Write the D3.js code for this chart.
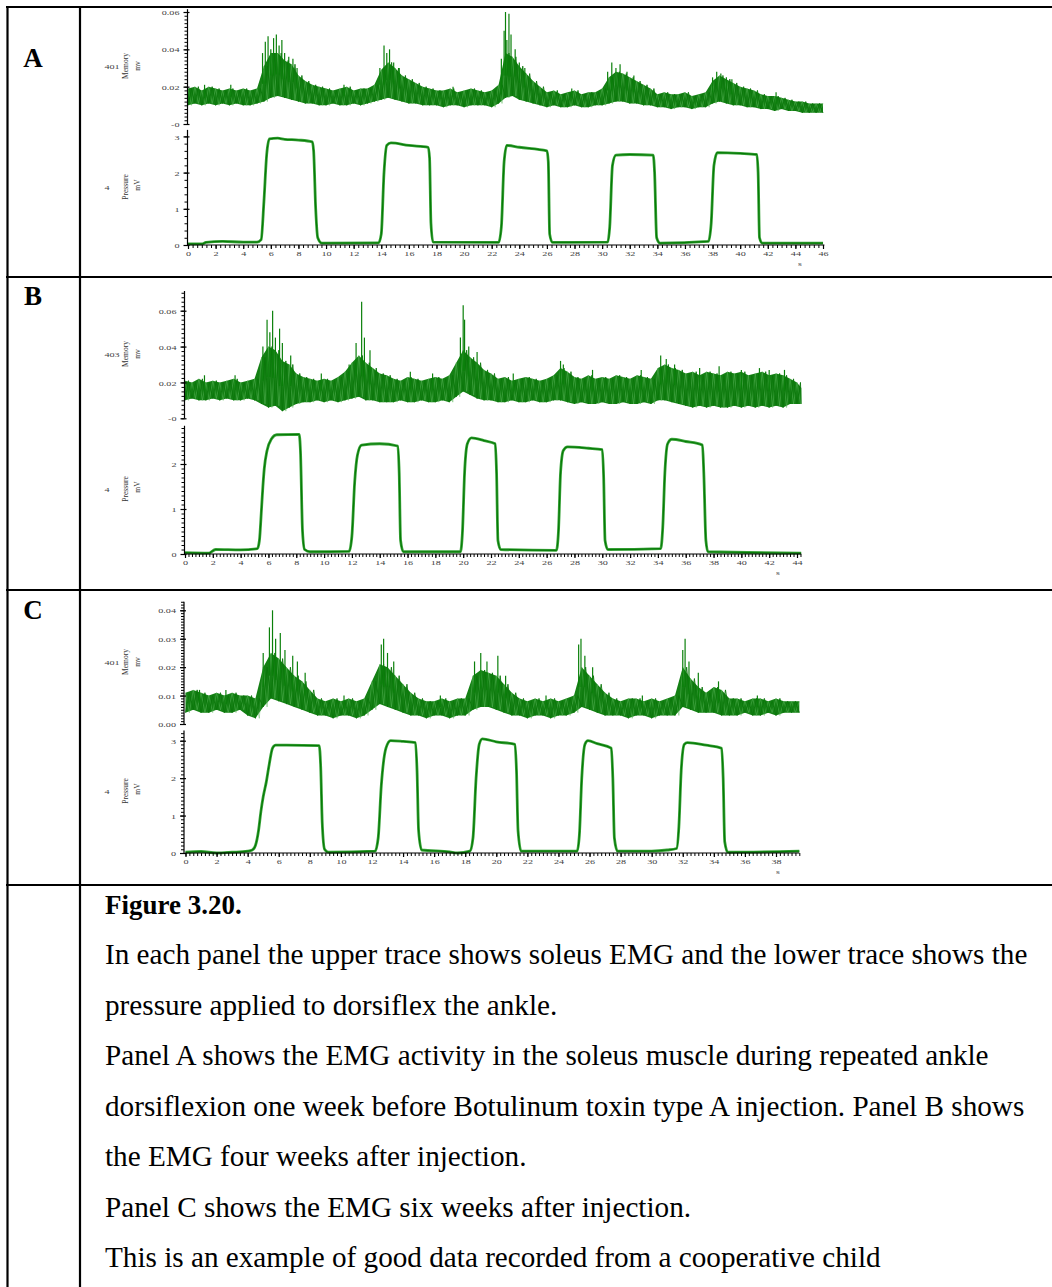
<!DOCTYPE html>
<html><head><meta charset="utf-8">
<script src="https://cdn.jsdelivr.net/npm/d3@7"></script>
<style>body{margin:0;background:#fff}svg{display:block}</style>
</head><body>
<svg id="c" width="1052" height="1287"></svg>
<script>
// ---------- DATA (EMG envelope: [time s, low, high] in 0.001 mV) ----------
const emgA = [[0,10,19],[0.5,11,20],[1,10,18],[1.5,11,20],[2,10,19],[2.5,11,18],[3,10,19],[3.5,11,18],[4,10,19],[4.5,10,18],[5,11,19],
[5.5,12,31],[6,14,38],[6.5,15,38],[7,14,34],[7.5,13,32],[8,12,26],[8.5,11,23],[9,11,21],[9.5,10,20],
[10,10,19],[10.5,11,18],[11,10,19],[11.5,10,20],[12,11,18],[12.5,10,19],[13,11,19],[13.5,12,21],
[14,13,29],[14.5,14,33],[15,13,30],[15.5,12,26],[16,11,24],[16.5,11,22],[17,10,20],
[17.5,10,19],[18,10,18],[18.5,9,18],[19,10,19],[19.5,10,17],[20,9,18],[20.5,10,19],[21,10,18],[21.5,10,17],[22,9,18],[22.5,11,21],
[23,14,38],[23.5,15,36],[24,13,31],[24.5,12,27],[25,11,23],[25.5,10,20],
[26,9,17],[26.5,10,18],[27,9,16],[27.5,9,17],[28,10,18],[28.5,9,16],[29,9,17],[29.5,10,17],[30,10,19],
[30.5,11,25],[31,12,28],[31.5,12,27],[32,11,25],[32.5,11,23],[33,10,21],[33.5,10,19],
[34,9,16],[34.5,9,17],[35,8,16],[35.5,9,16],[36,9,17],[36.5,8,15],[37,9,16],[37.5,9,17],
[38,11,23],[38.5,12,26],[39,11,24],[39.5,10,22],[40,10,20],[40.5,9,19],[41,9,18],
[41.5,8,16],[42,8,15],[42.5,7,15],[43,8,14],[43.5,7,13],[44,7,12],[44.5,6,12],[45,6,11],[45.5,6,11],[46,6,11]];
const spikesA = [[1.2,21],[3.1,21],[5.4,38],[5.6,44],[5.8,47],[6.0,40],[6.2,46],[6.4,48],[6.6,42],[6.8,45],[7.0,38],[7.3,36],[7.6,35],[7.9,30],
[11.3,21],[13.9,30],[14.2,42],[14.4,38],[14.6,40],[14.9,33],[15.3,30],[19.2,20],
[22.7,35],[22.9,50],[23.0,60],[23.1,45],[23.25,59],[23.4,48],[23.7,40],[24.0,33],[24.4,30],[27.8,19],
[30.4,28],[30.7,33],[31.0,30],[31.3,32],[31.8,28],[32.3,26],
[38.0,25],[38.3,28],[38.6,27],[39.0,25],[39.4,24],[42.6,17]];
const pressureA = [[0,0.03],[1,0.03],[1.3,0.07],[2.5,0.1],[4,0.08],[5,0.08],[5.3,0.15],[5.5,1.2],[5.7,2.5],[5.9,2.93],[6.5,2.95],[7,2.92],[8,2.9],[9,2.85],[9.1,2.6],[9.25,1.0],[9.4,0.2],[9.7,0.05],
[13.8,0.06],[14.0,0.3],[14.2,2.0],[14.4,2.75],[14.7,2.82],[16,2.75],[17.4,2.7],[17.5,2.4],[17.6,0.6],[17.75,0.08],
[22.5,0.07],[22.7,0.5],[22.9,2.3],[23.1,2.75],[24,2.7],[26,2.6],[26.1,2.3],[26.2,0.3],[26.4,0.07],
[30.4,0.08],[30.55,0.5],[30.75,2.2],[31.0,2.48],[32,2.5],[33.7,2.48],[33.8,2.0],[33.95,0.2],[34.2,0.05],
[37.7,0.1],[37.9,0.6],[38.1,2.2],[38.35,2.55],[40,2.53],[41.2,2.5],[41.3,2.0],[41.4,0.2],[41.6,0.05],[46,0.05]];

const emgB = [[0,10,21],[0.5,11,20],[1,10,22],[1.5,10,20],[2,11,21],[2.5,10,20],[3,11,21],[3.5,10,22],[4,10,20],[4.5,11,21],[5,10,22],
[5.5,8,34],[6,6,40],[6.5,7,38],[7,4,32],[7.5,6,30],[8,8,25],[8.5,9,23],
[9,9,22],[9.5,10,21],[10,9,22],[10.5,10,21],[11,9,23],
[11.5,10,26],[12,11,31],[12.5,12,35],[13,10,31],[13.5,10,28],[14,9,25],[14.5,9,24],
[15,9,22],[15.5,10,21],[16,9,23],[16.5,9,22],[17,10,21],[17.5,9,22],[18,9,23],[18.5,10,22],[19,9,24],
[19.5,12,31],[20,15,38],[20.5,13,34],[21,11,31],[21.5,10,27],[22,10,25],
[22.5,9,22],[23,9,23],[23.5,10,21],[24,9,22],[24.5,9,23],[25,10,22],[25.5,9,21],[26,9,22],[26.5,10,24],
[27,10,28],[27.5,9,26],
[28,8,23],[28.5,9,22],[29,8,24],[29.5,8,22],[30,9,23],[30.5,8,22],[31,8,24],[31.5,9,23],[32,8,22],[32.5,8,24],[33,9,23],[33.5,8,22],
[34,10,28],[34.5,10,30],[35,9,28],[35.5,8,27],
[36,7,25],[36.5,6,26],[37,7,24],[37.5,6,26],[38,7,25],[38.5,6,24],[39,6,26],[39.5,7,25],[40,6,26],[40.5,7,24],[41,6,25],[41.5,7,26],[42,6,24],[42.5,7,25],[43,6,24],[43.5,8,22],[44,8,20],[44.3,8,17]];
const spikesB = [[1.4,24],[3.6,24],[5.6,40],[5.9,55],[6.1,48],[6.3,60],[6.5,45],[6.8,50],[7.0,42],[7.6,35],
[9.8,25],[11.8,30],[12.3,42],[12.7,65],[12.9,45],[13.3,38],[16.2,26],[17.8,25],
[19.8,45],[20.0,63],[20.1,55],[20.4,40],[21.0,37],[23.6,25],
[27.0,32],[27.2,30],[29.3,27],[32.8,27],[34.2,35],[34.6,33],[35.2,30],[37.0,28],[38.4,29],[40.0,27],[41.3,28],[42.0,27],[43.1,27]];
const pressureB = [[0,0.03],[1.7,0.02],[2.2,0.1],[4,0.09],[5.2,0.12],[5.35,0.3],[5.5,1.0],[5.6,1.5],[5.7,1.9],[5.9,2.3],[6.2,2.55],[6.6,2.65],[8.2,2.66],[8.3,2.3],[8.45,0.5],[8.6,0.1],[9,0.05],
[11.8,0.06],[12.0,0.4],[12.2,1.6],[12.4,2.2],[12.7,2.42],[14,2.45],[15.3,2.4],[15.4,1.8],[15.5,0.3],[15.7,0.05],
[19.8,0.05],[19.95,0.5],[20.1,1.8],[20.3,2.45],[20.6,2.58],[21.5,2.52],[22.3,2.45],[22.4,1.8],[22.5,0.3],[22.7,0.1],
[26.7,0.08],[26.85,0.5],[27.0,1.8],[27.2,2.3],[27.5,2.38],[29,2.35],[30.0,2.32],[30.1,1.7],[30.2,0.3],[30.4,0.1],
[34.2,0.12],[34.35,0.6],[34.5,1.8],[34.7,2.45],[35,2.55],[36,2.5],[37.2,2.42],[37.3,1.8],[37.45,0.3],[37.6,0.05],[44.3,0.02]];

const emgC = [[0,4,11],[0.5,5,12],[1,4,11],[1.5,4,10],[2,5,11],[2.5,4,10],[3,4,11],[3.5,5,10],[4,3,10],
[4.5,2,9],[5,6,20],[5.5,9,25],[6,8,23],[6.5,7,20],[7,6,17],[7.5,5,15],[8,4,12],
[8.5,3,9],[9,3,8],[9.5,2,9],[10,3,8],[10.5,3,9],[11,2,8],[11.5,3,9],
[12,5,15],[12.5,7,21],[13,6,20],[13.5,5,17],[14,4,14],[14.5,3,11],
[15,3,9],[15.5,2,8],[16,3,8],[16.5,3,9],[17,2,8],[17.5,3,9],[18,3,9],
[18.5,5,17],[19,6,19],[19.5,6,18],[20,5,17],[20.5,4,14],[21,3,11],
[21.5,3,9],[22,2,8],[22.5,3,9],[23,3,8],[23.5,2,9],[24,3,8],[24.5,3,9],[25,4,10],
[25.5,6,20],[26,5,17],[26.5,4,14],[27,3,11],
[27.5,3,9],[28,3,8],[28.5,2,9],[29,3,9],[29.5,3,8],[30,2,9],[30.5,3,8],[31,3,9],[31.5,3,10],
[32,6,20],[32.5,5,16],[33,4,13],[33.5,4,11],[34,4,13],[34.5,3,12],
[35,3,9],[35.5,3,9],[36,4,8],[36.5,3,9],[37,3,9],[37.5,4,8],[38,3,9],[38.5,4,8],[39,4,8],[39.5,4,8]];
const spikesC = [[0.9,12],[2.6,12],[5.0,25],[5.4,34],[5.6,40],[5.8,30],[6.1,32],[6.4,26],[6.9,24],[7.2,22],[7.7,18],
[10.2,10],[12.6,28],[12.75,30],[13.0,25],[13.4,22],[16.4,10],[18.6,22],[19.0,25],[19.4,22],[20.1,24],[20.6,17],
[23.2,10],[25.3,28],[25.45,30],[25.7,24],[26.2,20],[29.4,10],[32.0,26],[32.15,30],[32.4,22],[33.0,18],[34.3,15],[36.8,10]];
const pressureC = [[0,0.02],[1,0.04],[2,0.0],[3,0.02],[4,0.05],[4.3,0.08],[4.5,0.2],[4.7,0.6],[4.85,1.1],[5.0,1.5],[5.2,1.9],[5.4,2.4],[5.6,2.8],[5.8,2.88],[6.5,2.88],[8.6,2.87],[8.7,2.3],[8.8,0.8],[8.95,0.1],[9.2,0.02],
[12.2,0.05],[12.4,0.4],[12.6,1.8],[12.9,2.8],[13.2,3.0],[14,2.98],[14.8,2.95],[14.9,2.2],[15.0,0.6],[15.2,0.08],
[17,0.03],[17.5,0.0],[18.3,0.05],[18.5,0.4],[18.7,2.0],[18.9,2.9],[19.1,3.05],[20,2.97],[21.2,2.9],[21.3,2.2],[21.4,0.6],[21.6,0.05],
[25.2,0.05],[25.35,0.5],[25.5,2.0],[25.7,2.9],[25.9,3.0],[26.5,2.92],[27.4,2.8],[27.5,2.0],[27.6,0.4],[27.8,0.05],
[30,0.05],[31,0.08],[31.6,0.12],[31.75,0.7],[31.9,2.2],[32.1,2.9],[32.3,2.95],[33.5,2.88],[34.5,2.8],[34.6,2.0],[34.7,0.3],[34.9,0.02],[39.5,0.05]];

// ---------- TICKS / LABELS ----------
const xTicksA = [0,2,4,6,8,10,12,14,16,18,20,22,24,26,28,30,32,34,36,38,40,42,44,46];
const xTicksB = [0,2,4,6,8,10,12,14,16,18,20,22,24,26,28,30,32,34,36,38,40,42,44];
const xTicksC = [0,2,4,6,8,10,12,14,16,18,20,22,24,26,28,30,32,34,36,38];
const emgTicksAB = [0,0.02,0.04,0.06];
const emgLabelsAB = ["-0","0.02","0.04","0.06"];
const emgTicksC = [0,0.01,0.02,0.03,0.04];
const emgLabelsC = ["0.00","0.01","0.02","0.03","0.04"];
const prTicksA = [0,1,2,3];
const prTicksB = [0,1,2];
const prTicksC = [0,1,2,3];
const panelLetters = ["A","B","C"];
const channelIds = ["401","403","401"];
const captionTitle = "Figure 3.20.";
const captionLines = [
 "In each panel the upper trace shows soleus EMG and the lower trace shows the",
 "pressure applied to dorsiflex the ankle.",
 "Panel A shows the EMG activity in the soleus muscle during repeated ankle",
 "dorsiflexion one week before Botulinum toxin type A injection. Panel B shows",
 "the EMG four weeks after injection.",
 "Panel C shows the EMG six weeks after injection.",
 "This is an example of good data recorded from a cooperative child"];

// ---------- DRAW ----------
const SERIF = "'Liberation Serif','Times New Roman',serif";
const svg = d3.select("#c");
svg.append("rect").attr("width",1052).attr("height",1287).attr("fill","#fff");

function stext(g,x,y,str,o){
  return g.append("text").attr("transform",`translate(${x},${y}) scale(${o.sx||1},1)${o.rot?` rotate(${o.rot})`:""}`)
    .attr("text-anchor",o.anchor||"start").attr("font-family",SERIF).attr("font-size",o.size)
    .attr("font-weight",o.weight||"normal").attr("fill",o.fill||"#000").text(str);
}

// table grid
const grid = svg.append("g").attr("stroke","#000").attr("stroke-width",2.2);
[[6,7,1052,7],[6,277,1052,277],[6,590,1052,590],[6,885,1052,885],[7.5,6,7.5,1287],[80,6,80,1287]]
 .forEach(l=>grid.append("line").attr("x1",l[0]).attr("y1",l[1]).attr("x2",l[2]).attr("y2",l[3]));

const panels = [
 {emg:emgA, spikes:spikesA, pr:pressureA, xt:xTicksA, et:emgTicksAB, el:emgLabelsAB, pt:prTicksA,
  xd:46, xr:[188,823], xTop:46.1, xMinor:1/3, ed:0.06, er:[124,12], eTop:0.0615, eMinor:0.002,
  pd:3, pr_:[245,136.4], pTop:3.18, pMinor:0.2, ax:187.5, sX:800, letterY:67, idY:69, prLabY:190},
 {emg:emgB, spikes:spikesB, pr:pressureB, xt:xTicksB, et:emgTicksAB, el:emgLabelsAB, pt:prTicksB,
  xd:44, xr:[185,797], xTop:44.3, xMinor:0.25, ed:0.06, er:[418.3,310.7], eTop:0.071, eMinor:0.0025,
  pd:2, pr_:[554,464], pTop:2.85, pMinor:0.1, ax:184.5, sX:778, letterY:305, idY:357, prLabY:492},
 {emg:emgC, spikes:spikesC, pr:pressureC, xt:xTicksC, et:emgTicksC, el:emgLabelsC, pt:prTicksC,
  xd:38, xr:[185.5,776], xTop:39.5, xMinor:0.25, ed:0.04, er:[724,610.3], eTop:0.043, eMinor:0.001,
  pd:3, pr_:[853,740.7], pTop:3.27, pMinor:0.1, ax:184, sX:778, letterY:619, idY:665, prLabY:794}
];

function yAxis(g, scale, ax, ticks, labels, top, step){
  g.append("line").attr("x1",ax).attr("x2",ax).attr("y1",scale(0)).attr("y2",scale(top)).attr("stroke","#000").attr("stroke-width",1.2);
  const gm = g.append("g").attr("transform",`translate(${ax},0)`)
    .call(d3.axisLeft(scale).tickValues(d3.range(0, top+1e-9, step)).tickFormat("").tickSize(3).tickSizeOuter(0));
  gm.select(".domain").remove();
  gm.selectAll(".tick line").attr("stroke","#000");
  const gM = g.append("g").attr("transform",`translate(${ax},0)`)
    .call(d3.axisLeft(scale).tickValues(ticks).tickFormat((d,i)=>labels[i]).tickSize(4).tickSizeOuter(0));
  gM.select(".domain").remove();
  gM.selectAll(".tick line").attr("x1",2).attr("stroke","#000").attr("stroke-width",1.2);
  gM.selectAll(".tick text").attr("x",null).attr("dy",null)
    .attr("transform","translate(-8,2.6) scale(1.45,1)").attr("font-family",SERIF).attr("font-size",7).attr("fill","#444");
}
function xAxis(g, scale, y, ticks, top, step){
  g.append("line").attr("x1",scale(0)).attr("x2",scale(top)).attr("y1",y).attr("y2",y).attr("stroke","#000").attr("stroke-width",1.2);
  const gm = g.append("g").attr("transform",`translate(0,${y})`)
    .call(d3.axisBottom(scale).tickValues(d3.range(0, top+1e-9, step)).tickFormat("").tickSize(3).tickSizeOuter(0));
  gm.select(".domain").remove();
  gm.selectAll(".tick line").attr("stroke","#000");
  const gM = g.append("g").attr("transform",`translate(0,${y})`)
    .call(d3.axisBottom(scale).tickValues(ticks).tickFormat(d=>String(d)).tickSize(4).tickSizeOuter(0));
  gM.select(".domain").remove();
  gM.selectAll(".tick line").attr("stroke","#000").attr("stroke-width",1.2);
  gM.selectAll(".tick text").attr("y",null).attr("dy",null)
    .attr("transform","translate(0,11) scale(1.45,1)").attr("font-family",SERIF).attr("font-size",7).attr("fill","#444");
}

panels.forEach((p,k)=>{
  const g = svg.append("g");
  const x = d3.scaleLinear([0,p.xd], p.xr);
  const ye = d3.scaleLinear([0,p.ed], p.er);
  const yp = d3.scaleLinear([0,p.pd], p.pr_);
  const dt = p.emg[1][0]-p.emg[0][0];
  const tEnd = p.emg[p.emg.length-1][0];

  // EMG: solid dark band with lighter streaks through the low/high envelope
  const area = d3.area().x(d=>x(d[0])).y0(d=>ye(d[1]/1000)).y1(d=>ye(d[2]/1000));
  g.append("path").datum(p.emg).attr("d",area).attr("fill","#148014");
  const ptsA = [], ptsB = [];
  p.emg.forEach(d=>{
    const t2 = Math.min(d[0]+dt/2, tEnd);
    ptsA.push([d[0],d[1]]); ptsB.push([d[0],d[2]]);
    if (t2 > d[0]) { ptsA.push([t2,d[2]]); ptsB.push([t2,d[1]]); }
  });
  const zl = d3.line().x(d=>x(d[0])).y(d=>ye(d[1]/1000));
  g.append("path").datum(ptsB).attr("d", zl).attr("fill","none").attr("stroke","#5cb85c").attr("stroke-width",0.6).attr("opacity",0.8);
  g.append("path").datum(ptsA).attr("d", zl).attr("fill","none").attr("stroke","#0a760a").attr("stroke-width",0.9);
  // spikes
  const bis = d3.bisector(d=>d[0]).center;
  g.append("g").selectAll("line").data(p.spikes).join("line")
    .attr("x1",d=>x(d[0])).attr("x2",d=>x(d[0]))
    .attr("y1",d=>{const b=p.emg[bis(p.emg,d[0])]; return ye((b[1]+b[2])/2000);})
    .attr("y2",d=>ye(d[1]/1000)).attr("stroke","#0b800b").attr("stroke-width",1.2);

  // pressure
  const line = d3.line().x(d=>x(d[0])).y(d=>yp(d[1])).curve(d3.curveMonotoneX);
  g.append("path").datum(p.pr).attr("d",line).attr("fill","none").attr("stroke","#3aa33a").attr("stroke-width",2.8);
  g.append("path").datum(p.pr).attr("d",line).attr("fill","none").attr("stroke","#067a06").attr("stroke-width",1.2);

  // axes
  yAxis(g, ye, p.ax, p.et, p.el, p.eTop, p.eMinor);
  yAxis(g, yp, p.ax, p.pt, p.pt.map(String), p.pTop, p.pMinor);
  xAxis(g, x, p.pr_[0], p.xt, p.xTop, p.xMinor);
  stext(g, p.sX, p.pr_[0]+21, "s", {size:7, sx:1.4, anchor:"middle", fill:"#444"});

  // channel labels
  stext(g, 112, p.idY, channelIds[k], {size:7, sx:1.45, anchor:"middle", fill:"#444"});
  stext(g, 128, p.idY-3, "Memory", {size:7.5, rot:-90, anchor:"middle", fill:"#333"});
  stext(g, 140, p.idY-3, "mv", {size:7.5, rot:-90, anchor:"middle", fill:"#333"});
  stext(g, 107, p.prLabY, "4", {size:7, sx:1.45, anchor:"middle", fill:"#444"});
  stext(g, 128, p.prLabY-3, "Pressure", {size:7.5, rot:-90, anchor:"middle", fill:"#333"});
  stext(g, 140, p.prLabY-5, "mV", {size:7.5, rot:-90, anchor:"middle", fill:"#333"});

  // panel letter
  stext(svg, 33, p.letterY, panelLetters[k], {size:27, weight:"bold", anchor:"middle"});
});

// caption
stext(svg, 105, 914, captionTitle, {size:27, weight:"bold"});
captionLines.forEach((t,i)=> stext(svg, 105, 964 + i*50.5, t, {size:29.2}));
</script>
</body></html>
